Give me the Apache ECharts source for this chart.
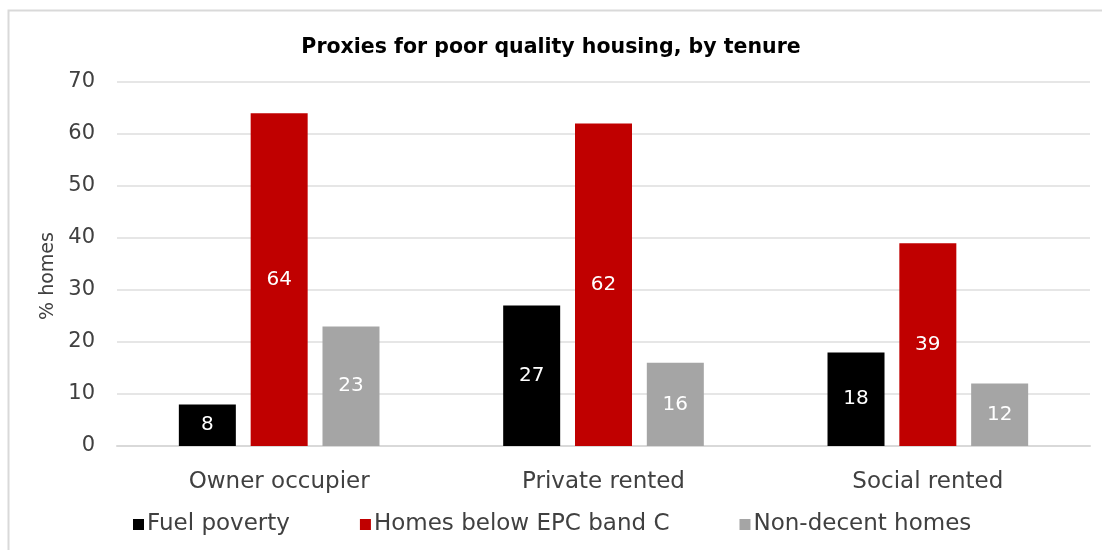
<!DOCTYPE html>
<html><head><meta charset="utf-8">
<script src="https://cdn.jsdelivr.net/npm/echarts@6/dist/echarts.min.js"></script>
<style>html,body{margin:0;padding:0;background:#fff}#c{width:1102px;height:550px}</style>
</head><body><div id="c"></div>
<script>
const categories = ["Owner occupier", "Private rented", "Social rented"];
const fuelPoverty = [8, 27, 18];
const belowEPC = [64, 62, 39];
const nonDecent = [23, 16, 12];
const seriesNames = ["Fuel poverty", "Homes below EPC band C", "Non-decent homes"];
const colors = ["#000000", "#c00000", "#a5a5a5"];
const font = "DejaVu Sans";

const chart = echarts.init(document.getElementById('c'));
const lbl = {show: true, position: 'inside', color: '#fff', fontFamily: font, fontSize: 20};
chart.setOption({
  animation: false,
  title: {text: "Proxies for poor quality housing, by tenure", left: 'center', top: 32,
    textStyle: {fontFamily: font, fontWeight: 'bold', fontSize: 20.5, color: '#000'}},
  graphic: [{type: 'rect', shape: {x: 8.5, y: 10.5, width: 1100, height: 545},
    style: {fill: 'none', stroke: '#d9d9d9', lineWidth: 2}}],
  legend: {bottom: 9, left: 128, itemWidth: 11, itemHeight: 11, itemGap: 70, icon: 'rect',
    textStyle: {fontFamily: font, fontSize: 23, color: '#404040', padding: [0, 0, 0, -2]},
    data: seriesNames},
  grid: {left: 117, right: 12, top: 82, bottom: 104},
  xAxis: {type: 'category', data: categories,
    axisLine: {lineStyle: {color: '#d9d9d9', width: 2}}, axisTick: {show: false},
    axisLabel: {fontFamily: font, fontSize: 23, color: '#404040', margin: 25}},
  yAxis: {type: 'value', min: 0, max: 70, interval: 10, name: '% homes', nameLocation: 'middle', nameGap: 58,
    nameTextStyle: {fontFamily: font, fontSize: 19, color: '#404040', padding: [0, 24, 0, 0]},
    axisLine: {show: false}, axisTick: {show: false},
    splitLine: {lineStyle: {color: '#e6e6e6', width: 2}},
    axisLabel: {fontFamily: font, fontSize: 21, color: '#404040', margin: 22}},
  series: [
    {name: seriesNames[0], type: 'bar', data: fuelPoverty, itemStyle: {color: colors[0]}, barWidth: 57, barGap: '26%', label: lbl},
    {name: seriesNames[1], type: 'bar', data: belowEPC, itemStyle: {color: colors[1]}, barWidth: 57, barGap: '26%', label: lbl},
    {name: seriesNames[2], type: 'bar', data: nonDecent, itemStyle: {color: colors[2]}, barWidth: 57, barGap: '26%', label: lbl}
  ]
});
</script></body></html>
